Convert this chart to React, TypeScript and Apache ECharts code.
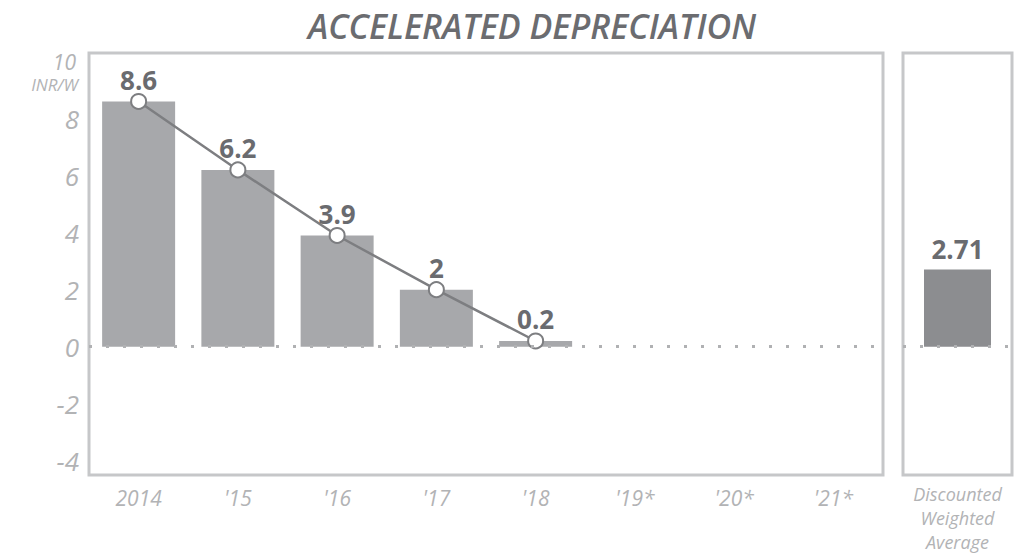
import React, { useEffect, useRef } from "react";
import * as echarts from "echarts";

const categories = ["2014", "'15", "'16", "'17", "'18", "'19*", "'20*", "'21*"];
const barValues: (number | null)[] = [8.6, 6.2, 3.9, 2, 0.2, null, null, null];
const lineValues: (number | null)[] = [8.6, 6.2, 3.9, 2, 0.2, null, null, null];
const avgCategory = ["Discounted\nWeighted\nAverage"];
const avgValues = [2.71];
const yTicks = [-4, -2, 0, 2, 4, 6, 8];
const topTickText = "10";
const titleText = "ACCELERATED DEPRECIATION";
const unitText = "INR/W";

export default function App() {
  const ref = useRef<HTMLDivElement>(null);
  useEffect(() => {
    if (!ref.current) return;
    const chart = echarts.init(ref.current, null, { renderer: "svg" });
    const labelColor = "#b2b3b5";
    const darkText = "#6a6b6f";
    const border = "#c6c7c9";
    const zeroLine = {
      silent: true,
      symbol: "none",
      label: { show: false },
      lineStyle: { color: "#b0b1b3", width: 3, type: [3, 14] as any },
      data: [{ yAxis: 0 }],
      z: 10,
    };
    chart.setOption({
      animation: false,
      title: {
        text: titleText,
        left: 527,
        textAlign: "center",
        top: 4,
        textStyle: {
          fontFamily: "Open Sans",
          fontStyle: "italic",
          fontWeight: 600,
          fontSize: 34,
          color: "#6b6c70",
        },
      },
      graphic: [
        {
          type: "text",
          right: 1017 - 76,
          top: 51,
          style: {
            text: topTickText,
            fontFamily: "Open Sans",
            fontStyle: "italic",
            fontSize: 21,
            fill: labelColor,
          },
        },
        {
          type: "text",
          right: 1017 - 78,
          top: 76,
          style: {
            text: unitText,
            fontFamily: "Open Sans",
            fontStyle: "italic",
            fontSize: 17,
            fill: labelColor,
          },
        },
      ],
      grid: [
        { left: 89, right: 1017 - 883, top: 53, bottom: 79, show: true, borderColor: border, borderWidth: 3, backgroundColor: "transparent" },
        { left: 903, right: 5, top: 53, bottom: 79, show: true, borderColor: border, borderWidth: 3, backgroundColor: "transparent" },
      ],
      xAxis: [
        {
          gridIndex: 0,
          type: "category",
          data: categories,
          axisLine: { show: false },
          axisTick: { show: false },
          axisLabel: {
            margin: 12,
            fontFamily: "Open Sans",
            fontStyle: "italic",
            fontSize: 21,
            color: labelColor,
          },
        },
        {
          gridIndex: 1,
          type: "category",
          data: avgCategory,
          axisLine: { show: false },
          axisTick: { show: false },
          axisLabel: {
            margin: 7,
            fontFamily: "Open Sans",
            fontStyle: "italic",
            fontSize: 18,
            lineHeight: 24,
            color: labelColor,
          },
        },
      ],
      yAxis: [
        {
          gridIndex: 0,
          type: "value",
          min: -4.5,
          max: 10.3,
          splitLine: { show: false },
          axisLine: { show: false },
          axisTick: { show: false },
          axisLabel: {
            customValues: yTicks,
            margin: 10,
            fontFamily: "Open Sans",
            fontStyle: "italic",
            fontSize: 26,
            color: labelColor,
          },
        },
        {
          gridIndex: 1,
          type: "value",
          min: -4.5,
          max: 10.3,
          splitLine: { show: false },
          axisLine: { show: false },
          axisTick: { show: false },
          axisLabel: { show: false },
        },
      ],
      series: [
        {
          type: "bar",
          xAxisIndex: 0,
          yAxisIndex: 0,
          data: barValues,
          barWidth: 73,
          itemStyle: { color: "#a7a8ab" },
          markLine: zeroLine,
        },
        {
          type: "line",
          xAxisIndex: 0,
          yAxisIndex: 0,
          data: lineValues,
          symbol: "circle",
          symbolSize: 15,
          lineStyle: { color: "#7d7e81", width: 2.5 },
          itemStyle: { color: "#ffffff", borderColor: "#7d7e81", borderWidth: 2 },
          label: {
            show: true,
            position: "top",
            distance: 0,
            fontFamily: "Open Sans",
            fontWeight: "bold",
            fontSize: 26,
            color: darkText,
          },
          z: 5,
        },
        {
          type: "bar",
          xAxisIndex: 1,
          yAxisIndex: 1,
          data: avgValues,
          barWidth: 67,
          itemStyle: { color: "#8c8d90" },
          label: {
            show: true,
            position: "top",
            distance: 7,
            fontFamily: "Open Sans",
            fontWeight: "bold",
            fontSize: 26,
            color: darkText,
          },
          markLine: zeroLine,
        },
      ],
    });
    return () => chart.dispose();
  }, []);
  return <div ref={ref} style={{ width: 1017, height: 554, position: "absolute", left: 0, top: 0 }} />;
}
